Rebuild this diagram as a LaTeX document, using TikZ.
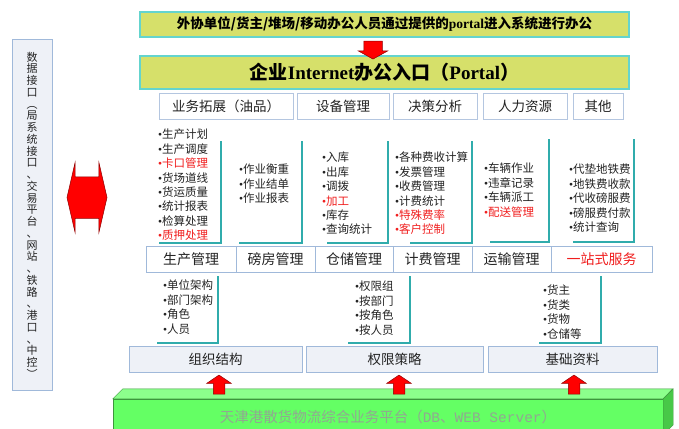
\documentclass[tikz,border=0pt]{standalone}
\usepackage{fontspec}
\setmainfont{Liberation Serif}
\newfontfamily\cjk{Noto Sans CJK SC}
\newfontfamily\monotext{Liberation Mono}
\usetikzlibrary{shapes.arrows,shadows}

\definecolor{boxyellow}{RGB}{214,224,106}
\definecolor{boxcyan}{RGB}{100,212,206}
\definecolor{tabline}{RGB}{180,198,224}
\definecolor{modline}{RGB}{160,185,218}
\definecolor{basefill}{RGB}{238,241,247}
\definecolor{braceteal}{RGB}{48,172,172}
\definecolor{itemred}{RGB}{240,30,30}
\definecolor{platfront}{RGB}{100,255,100}
\definecolor{plattop}{RGB}{140,255,140}
\definecolor{platside}{RGB}{72,200,72}
\definecolor{platline}{RGB}{60,150,60}
\definecolor{plattext}{RGB}{145,168,145}
\definecolor{textgray}{RGB}{35,35,35}

\newcommand{\itm}[1]{{\rmfamily\textbullet}#1}
\newcommand{\ritm}[1]{{\color{itemred}{\rmfamily\textbullet}#1}}

\tikzset{
  portalbox/.style={draw=boxcyan,line width=1.5pt,fill=boxyellow,inner sep=0,minimum width=489},
  tabbox/.style={draw=tabline,fill=white,line width=1pt,minimum height=26,inner sep=0,
    drop shadow={opacity=0.15,shadow xshift=1pt,shadow yshift=-1pt},
    font=\cjk\fontsize{13.5}{16}\selectfont,text=textgray},
  modbox/.style={draw=modline,fill=white,line width=0.8pt,minimum height=26,inner sep=0,
    font=\cjk\fontsize{14}{16}\selectfont,text=textgray},
  basebox/.style={draw=modline,fill=basefill,line width=1pt,minimum height=26,inner sep=0,
    drop shadow={opacity=0.2,shadow xshift=1.2pt,shadow yshift=-1.2pt},
    font=\cjk\fontsize{13.5}{16}\selectfont,text=textgray},
  itemlist/.style={anchor=north west,inner sep=0,align=left,text=textgray,
    font=\cjk\fontsize{11.5}{14.4}\selectfont},
  bracket/.style={braceteal,line width=1.5pt},
  redarrow/.style={single arrow,draw=red!55!black,fill=red,inner xsep=0,line width=0.5pt}
}

\begin{document}
\begin{tikzpicture}[x=1pt,y=-1pt]
\useasboundingbox (0,0) rectangle (679,428);

% portal
\node[portalbox,minimum height=25,font=\cjk\bfseries\fontsize{13.5}{16}\selectfont] (visitor) at (384.5,24.5)
  {外协单位/货主/堆场/移动办公人员通过提供的{\rmfamily portal}进入系统进行办公};
\node[portalbox,minimum height=33,font=\cjk\bfseries\fontsize{19}{22}\selectfont] (portal) at (384.5,72.5)
  {企业{\rmfamily Internet}办公入口（{\rmfamily Portal}）};
\node[redarrow,rotate=-90,inner ysep=9,minimum height=18,single arrow head extend=5.5,
  single arrow tip angle=122] (down) at (373,47.5) {};

% tabs
\node[tabbox,minimum width=134] (tabbiz) at (226,106) {业务拓展（油品）};
\node[tabbox,minimum width=92] (tabequip) at (343,106) {设备管理};
\node[tabbox,minimum width=84] (tabdec) at (435,106) {决策分析};
\node[tabbox,minimum width=84] (tabhr) at (525,106) {人力资源};
\node[tabbox,minimum width=50] (tabother) at (598,106) {其他};

% item lists
\node[itemlist] (lprod) at (158,129) {\itm{生产计划}\\\itm{生产调度}\\\ritm{卡口管理}\\\itm{货场道线}\\
  \itm{货运质量}\\\itm{统计报表}\\\itm{检算处理}\\\ritm{质押处理}};
\node[itemlist] (lweigh) at (239,164) {\itm{作业衡重}\\\itm{作业结单}\\\itm{作业报表}};
\node[itemlist] (lstore) at (322,152) {\itm{入库}\\\itm{出库}\\\itm{调拨}\\\ritm{加工}\\\itm{库存}\\\itm{查询统计}};
\node[itemlist] (lfee) at (395,152) {\itm{各种费收计算}\\\itm{发票管理}\\\itm{收费管理}\\\itm{计费统计}\\
  \ritm{特殊费率}\\\ritm{客户控制}};
\node[itemlist] (ltrans) at (484,163) {\itm{车辆作业}\\\itm{违章记录}\\\itm{车辆派工}\\\ritm{配送管理}};
\node[itemlist] (lone) at (569,164) {\itm{代垫地铁费}\\\itm{地铁费收款}\\\itm{代收磅服费}\\\itm{磅服费付款}\\\itm{统计查询}};
\node[itemlist] (lorg) at (163,280) {\itm{单位架构}\\\itm{部门架构}\\\itm{角色}\\\itm{人员}};
\node[itemlist] (lperm) at (355,281) {\itm{权限组}\\\itm{按部门}\\\itm{按角色}\\\itm{按人员}};
\node[itemlist] (lbasic) at (543,285) {\itm{货主}\\\itm{货类}\\\itm{货物}\\\itm{仓储等}};

\foreach \xv/\xl/\yt/\yb in {221/159/141/243,302/239/141/243,388/327/141/243,472/410/141/243,
  549/490/139/242,634/573/139/242,218/157/276/343,410/348/276/343,601/539/276/343}
  \draw[bracket] (\xv,\yt) |- (\xl,\yb);

% modules
\node[modbox,minimum width=90] (prod) at (191,259) {生产管理};
\node[modbox,minimum width=79] (weigh) at (275.5,259) {磅房管理};
\node[modbox,minimum width=78] (store) at (354,259) {仓储管理};
\node[modbox,minimum width=79] (fee) at (432.5,259) {计费管理};
\node[modbox,minimum width=79] (trans) at (511.5,259) {运输管理};
\node[modbox,minimum width=101,text=itemred] (onestop) at (601.5,259) {一站式服务};

% base modules
\node[basebox,minimum width=173] (org) at (215.5,359) {组织结构};
\node[basebox,minimum width=177] (perm) at (394.5,359) {权限策略};
\node[basebox,minimum width=169] (basic) at (572.5,359) {基础资料};

% platform
\node[draw=platline,fill=platfront,minimum width=550,minimum height=36,inner sep=0,text=plattext,
  font=\cjk\fontsize{14.5}{17}\selectfont] (platform) at (388,417)
  {天津港散货物流综合业务平台（{\monotext DB}、{\monotext WEB Server}）};
\draw[platline,fill=plattop] (platform.north west) -- ++(10,-10) -- ++(550,0) -- (platform.north east) -- cycle;
\draw[platline,fill=platside] (platform.north east) -- ++(10,-10) -- ++(0,36) -- (platform.south east) -- cycle;

\foreach \xa/\nm in {219/uorg,399/uperm,574/ubasic}
  \node[redarrow,rotate=90,inner ysep=5.5,minimum height=19,single arrow head extend=6.5,
    single arrow tip angle=112] (\nm) at (\xa,386.5) {};

% data interface
\node[draw=modline,fill=basefill,line width=1pt,minimum width=40,minimum height=350,inner sep=0,
  drop shadow={opacity=0.2,shadow xshift=1.2pt,shadow yshift=-1.2pt}] (iface) at (32,215) {};
\node[align=center,inner sep=0,text=textgray,font=\cjk\fontsize{11}{11.75}\selectfont] (ifacetext) at (iface.center)
  {数\\据\\接\\口\\︵\\局\\系\\统\\接\\口\\、\\交\\易\\平\\台\\、\\网\\站\\、\\铁\\路\\、\\港\\口\\、\\中\\控\\︶};
\node[double arrow,draw=red!55!black,fill=red,inner xsep=0,inner ysep=20.5,line width=0.5pt,minimum height=40,
  double arrow head extend=14,double arrow tip angle=154] (link) at (87,197.5) {};
\end{tikzpicture}
\end{document}
